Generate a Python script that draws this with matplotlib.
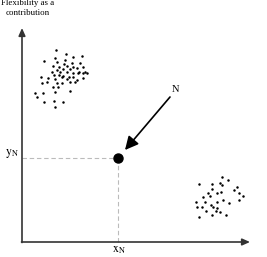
import matplotlib
matplotlib.use("Agg")
import matplotlib.pyplot as plt

# chart coordinates: origin at the axes corner, units ~ pixels of the reference
left_x = [33.7, 44, 33, 51.3, 59.7, 22, 35.3, 43, 49.7, 42.3, 30.7, 37.3, 45.3, 51.3,
          58, 61.3, 34.7, 40.7, 48, 54.7, 57.3, 63, 65.3, 61.3, 29.7, 38, 44.7, 51.3,
          56.3, 32, 37.3, 41.3, 47.3, 51.3, 18.7, 26.3, 33, 39.7, 45.3, 61.3, 55.3,
          19.7, 24.7, 34.7, 39.7, 48, 53, 31.3, 36.3, 48, 13, 21.3, 33, 14.7, 22, 32,
          40.7, 33]
left_y = [192, 188, 183.7, 185.3, 186.3, 181.3, 180.3, 182, 179.3, 178, 176, 175.3, 176,
          175.3, 178.7, 174.7, 172, 172.7, 172.7, 173.7, 170.3, 170.3, 169.3, 168.7,
          170.3, 170.3, 170.3, 169.3, 168.7, 167, 167, 166, 165.3, 165.3, 164.7, 163.7,
          162.7, 164.7, 162.7, 163.7, 162, 159.3, 160.3, 159.3, 158.7, 160.3, 160.3,
          155.3, 155.3, 151.3, 149.3, 149.3, 150.3, 144.7, 140.3, 141, 140.3, 135.3]

right_x = [199.7, 205.7, 177.3, 189.7, 198, 199.7, 214.7, 189.7, 212, 195.3, 198.7,
           186.3, 217.3, 220.7, 181.3, 188, 201.3, 217.3, 174, 183, 195.3, 207.3,
           188.7, 174.7, 180.3, 191.3, 195.3, 184, 194, 198, 177.3, 189.7, 204]
right_y = [65.3, 62, 58, 58, 58.7, 57, 55.3, 52.7, 52, 49.3, 49.7, 48.7, 49.3, 46,
           44.7, 46, 42, 42, 40.3, 40.3, 40.3, 38.7, 37, 34.7, 35.3, 35.3, 33.7, 31.3,
           31.3, 30.3, 25.3, 27, 27]

point_n = (95.5, 84)
x_end, y_end = 228, 214
title = "Flexibility as a\ncontribution"

plt.rcParams["font.family"] = ["Liberation Serif", "DejaVu Serif"]
plt.rcParams["mathtext.fontset"] = "stix"

fig = plt.figure(figsize=(2.67, 2.57), dpi=100)
ax = fig.add_axes([0, 0, 1, 1])
ax.set_xlim(-22, 245)
ax.set_ylim(-15, 242)
ax.axis("off")

# axes with arrow heads
axis_style = dict(arrowstyle="-|>,head_length=0.45,head_width=0.2", color="#333333",
                  lw=1.2, shrinkA=0, shrinkB=0)
ax.annotate("", xy=(x_end, 0), xytext=(-0.5, 0), arrowprops=axis_style)
ax.annotate("", xy=(0, y_end), xytext=(0, -0.5), arrowprops=axis_style)

# guide lines to point N
ax.plot([0, point_n[0]], [point_n[1], point_n[1]], ls=(0, (4, 2.5)), color="#bbbbbb", lw=0.8)
ax.plot([point_n[0], point_n[0]], [0, point_n[1]], ls=(0, (4, 2.5)), color="#bbbbbb", lw=0.8)

ax.scatter(left_x, left_y, s=3.2, color="black", linewidths=0)
ax.scatter(right_x, right_y, s=3.2, color="black", linewidths=0)
ax.plot(*point_n, "o", color="black", ms=6.5, zorder=5)

ax.annotate("", xy=(103, 92), xytext=(148, 145),
            arrowprops=dict(arrowstyle="-|>,head_length=0.8,head_width=0.4",
                            color="black", lw=1.2, shrinkA=0, shrinkB=0))
ax.text(154, 152, "N", fontsize=7.5, ha="center", va="center")

ax.text(-10, 88, r"$\mathrm{y_N}$", fontsize=8.5, ha="center", va="center")
ax.text(97, -8, r"$\mathrm{x_N}$", fontsize=8.5, ha="center", va="center")
ax.text(5.5, 243, title, fontsize=6.4, ha="center", va="top", linespacing=1.3)

fig.savefig("out.png", dpi=100, facecolor="white")
